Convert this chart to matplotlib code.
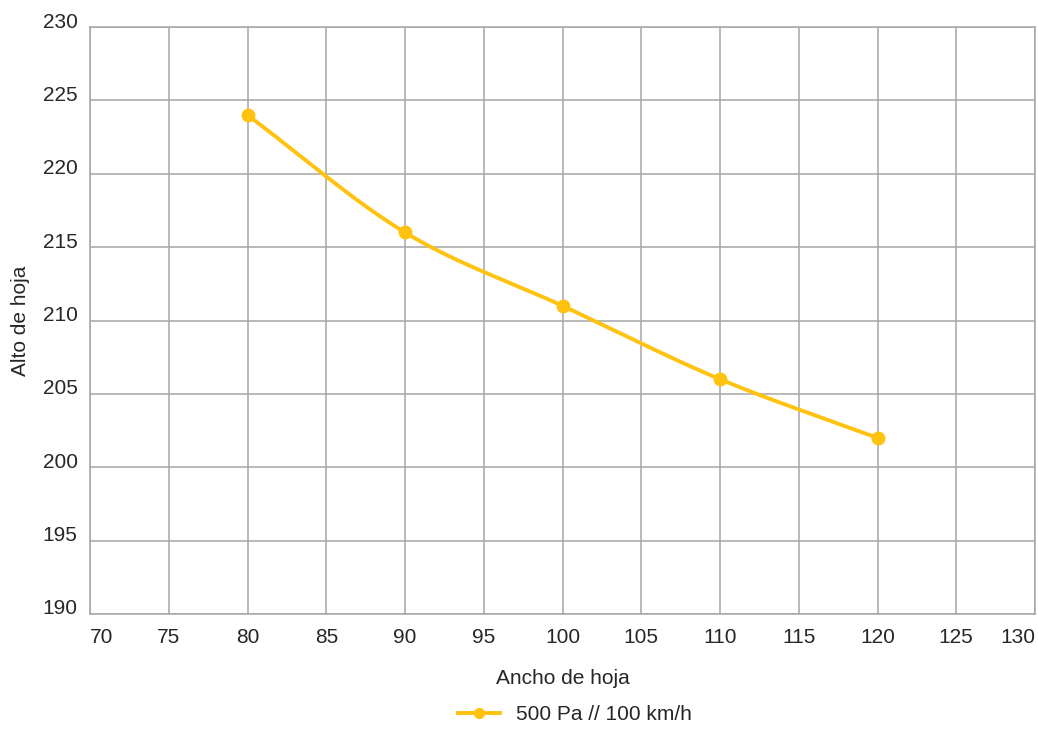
import numpy as np
import matplotlib
matplotlib.use("Agg")
import matplotlib.pyplot as plt
import matplotlib.transforms as mtransforms

# Data
ancho = [80, 90, 100, 110, 120]
alto = [224, 216, 211, 206, 202]
serie_label = "500 Pa // 100 km/h"

x_ticks = list(range(70, 131, 5))
y_ticks = list(range(190, 231, 5))

LINE_COLOR = "#FFC20E"
GRID_COLOR = "#A6A6A6"
TEXT_COLOR = "#262626"
FS = 15


def catmull_rom(xs, ys, n=40):
    """Smooth curve through the points (like a spreadsheet 'smoothed line')."""
    pts = np.column_stack([xs, ys]).astype(float)
    ext = np.vstack([2 * pts[0] - pts[1], pts, 2 * pts[-1] - pts[-2]])
    out = []
    t = np.linspace(0, 1, n)[:, None]
    for i in range(1, len(ext) - 2):
        p0, p1, p2, p3 = ext[i - 1], ext[i], ext[i + 1], ext[i + 2]
        seg = 0.5 * ((2 * p1) + (-p0 + p2) * t
                     + (2 * p0 - 5 * p1 + 4 * p2 - p3) * t ** 2
                     + (-p0 + 3 * p1 - 3 * p2 + p3) * t ** 3)
        out.append(seg if i == 1 else seg[1:])
    out = np.vstack(out)
    return out[:, 0], out[:, 1]


def main():
    plt.rcParams["font.family"] = ["Liberation Sans", "DejaVu Sans"]
    fig = plt.figure(figsize=(10.38, 7.34), dpi=100)
    ax = fig.add_axes([90 / 1038, 1 - 614 / 734, 945 / 1038, 587 / 734])

    sx, sy = catmull_rom(ancho, alto)
    ax.plot(sx, sy, color=LINE_COLOR, lw=2.8, solid_capstyle="round", zorder=3)
    ax.plot(ancho, alto, "o", color=LINE_COLOR, ms=9, zorder=4)
    # proxy for the legend (line + marker)
    ax.plot([], [], "-o", color=LINE_COLOR, lw=2.8, ms=7, label=serie_label)

    ax.set_xlim(70, 130)
    ax.set_ylim(190, 230)
    ax.set_xticks(x_ticks)
    ax.set_yticks(y_ticks)
    ax.grid(True, color=GRID_COLOR, lw=1.1)
    ax.set_axisbelow(True)
    for s in ax.spines.values():
        s.set_color(GRID_COLOR)
        s.set_linewidth(1.1)

    ax.tick_params(length=0, labelsize=FS, labelcolor=TEXT_COLOR)
    ax.tick_params(axis="x", pad=10)
    ax.tick_params(axis="y", pad=9)

    # y labels sit a little above their gridlines
    offset = mtransforms.ScaledTranslation(0, 7 / 100, fig.dpi_scale_trans)
    for lbl in ax.get_yticklabels():
        lbl.set_transform(lbl.get_transform() + offset)

    xl = ax.get_xticklabels()
    xl[0].set_horizontalalignment("left")
    xl[-1].set_horizontalalignment("right")

    ax.set_xlabel("Ancho de hoja", fontsize=FS, color=TEXT_COLOR, labelpad=16)
    ax.set_ylabel("Alto de hoja", fontsize=FS, color=TEXT_COLOR, labelpad=9)

    fig.legend(loc="center", bbox_to_anchor=(575 / 1038, 1 - 715 / 734),
               frameon=False, fontsize=FS, handlelength=2.0,
               labelcolor=TEXT_COLOR)

    fig.savefig("out.png", dpi=100)


if __name__ == "__main__":
    main()
